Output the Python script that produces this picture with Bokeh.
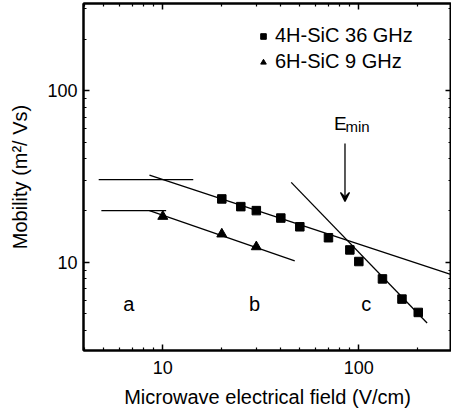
from bokeh.plotting import figure
from bokeh.models import (Range1d, LogAxis, Legend, LegendItem, Arrow, VeeHead,
                          FixedTicker, PrintfTickFormatter, CustomJSTickFormatter)
from bokeh.core.properties import value
from bokeh.embed import file_html
from bokeh.resources import INLINE

# ---- data ----
sic4h_field = [20, 25, 30, 40, 50, 70, 90, 100, 132, 166, 201]
sic4h_mob = [23.4, 21.1, 20.0, 18.1, 16.1, 13.9, 11.8, 10.1, 8.0, 6.1, 5.1]
sic6h_field = [10, 20, 30]
sic6h_mob = [18.5, 14.6, 12.3]

plateau4h_x = [4.71, 14.3]
plateau4h_y = [30.3, 30.3]
plateau6h_x = [4.86, 10.4]
plateau6h_y = [20.0, 20.0]
fit4h_x = [8.55, 294]
fit4h_y = [32.2, 8.51]
fit6h_x = [8.55, 47.1]
fit6h_y = [20.0, 10.2]
fithigh_x = [45.2, 223]
fithigh_y = [29.2, 4.43]

arrow_x = [85, 85]
arrow_y = [49.3, 22.6]

region_labels = ["a", "b", "c"]
region_x = [6.71, 29.4, 109]
region_y = [5.7, 5.7, 5.7]

emin_x = [74.6, 85.5]
emin_y = [64.4, 62.1]

x_major = [10, 100]
x_minor = [4, 5, 6, 7, 8, 9, 20, 30, 40, 50, 60, 70, 80, 90, 200]
y_major = [10, 100]
y_minor = [4, 5, 6, 7, 8, 9, 20, 30, 40, 50, 60, 70, 80, 90, 200, 300]

x_range = (3.94, 297.0)
y_range = (3.06, 322.3)

FONT = "Liberation Sans"

p = figure(width=451, height=411, x_axis_type="log", y_axis_type="log",
           x_range=Range1d(*x_range), y_range=Range1d(*y_range),
           output_backend="svg", toolbar_location=None,
           min_border_left=83, min_border_right=0, min_border_top=3,
           min_border_bottom=61)
p.background_fill_color = "white"
p.border_fill_color = "white"
p.outline_line_color = "black"
p.outline_line_width = 2
p.xgrid.visible = False
p.ygrid.visible = False


def style_axis(ax, major, minor):
    ax.ticker = FixedTicker(ticks=major, minor_ticks=minor)
    ax.formatter = PrintfTickFormatter(format="%d")
    ax.axis_line_width = 2
    ax.axis_line_color = "black"
    ax.major_tick_in = 6
    ax.major_tick_out = 0
    ax.minor_tick_in = 3
    ax.minor_tick_out = 0
    ax.major_tick_line_width = 1.5
    ax.minor_tick_line_width = 1.2
    ax.major_tick_line_color = "black"
    ax.minor_tick_line_color = "black"
    ax.major_label_text_font = FONT
    ax.major_label_text_font_size = "18px"
    ax.major_label_text_color = "black"
    ax.axis_label_text_font = FONT
    ax.axis_label_text_font_size = "20px"
    ax.axis_label_text_font_style = "normal"
    ax.axis_label_text_color = "black"


xa = p.xaxis[0]
ya = p.yaxis[0]
style_axis(xa, x_major, x_minor)
style_axis(ya, y_major, y_minor)
xa.axis_label = "Microwave electrical field (V/cm)"
ya.axis_label = "Mobility (m\u00b2/ Vs)"
xa.major_label_standoff = 10
xa.axis_label_standoff = 9
ya.major_label_standoff = 6
ya.axis_label_standoff = 13

top = LogAxis()
right = LogAxis()
style_axis(top, x_major, x_minor)
style_axis(right, y_major, y_minor)
for ax in (top, right):
    ax.formatter = CustomJSTickFormatter(code="return ''")
    ax.major_label_text_font_size = "1px"
    ax.major_label_standoff = 0
p.add_layout(top, "above")
p.add_layout(right, "right")

lw = 1.3
p.line(plateau4h_x, plateau4h_y, line_color="black", line_width=lw)
p.line(plateau6h_x, plateau6h_y, line_color="black", line_width=lw)
p.line(fit4h_x, fit4h_y, line_color="black", line_width=lw)
p.line(fit6h_x, fit6h_y, line_color="black", line_width=lw)
p.line(fithigh_x, fithigh_y, line_color="black", line_width=lw)

r4 = p.scatter(sic4h_field, sic4h_mob, marker="square", size=8.5,
               fill_color="black", line_color="black")
r6 = p.scatter(sic6h_field, sic6h_mob, marker="triangle", size=10,
               fill_color="black", line_color="black")

p.add_layout(Arrow(end=VeeHead(size=9, line_color="black", line_width=1.3,
                               fill_color="black"),
                   x_start=arrow_x[0], y_start=arrow_y[0],
                   x_end=arrow_x[1], y_end=arrow_y[1],
                   line_color="black", line_width=1.3))

p.text(region_x, region_y, text=region_labels, text_font=value(FONT),
       text_font_size="20px", text_align="center",
       text_baseline="alphabetic", text_color="black")
p.text([emin_x[0]], [emin_y[0]], text=["E"], text_font=value(FONT),
       text_font_size="19px", text_align="left",
       text_baseline="alphabetic", text_color="black")
p.text([emin_x[1]], [emin_y[1]], text=["min"], text_font=value(FONT),
       text_font_size="15px", text_align="left",
       text_baseline="alphabetic", text_color="black")

legend = Legend(items=[LegendItem(label="4H-SiC 36 GHz", renderers=[r4]),
                       LegendItem(label="6H-SiC 9 GHz", renderers=[r6])],
                location=(173, 277))
legend.border_line_alpha = 0
legend.background_fill_alpha = 0
legend.padding = 0
legend.margin = 0
legend.spacing = 3
legend.glyph_width = 14
legend.glyph_height = 14
legend.label_height = 23
legend.label_standoff = 5
legend.label_text_font = FONT
legend.label_text_font_size = "20px"
legend.label_text_color = "black"
p.add_layout(legend)

open("out.html", "w").write(file_html(p, INLINE))
